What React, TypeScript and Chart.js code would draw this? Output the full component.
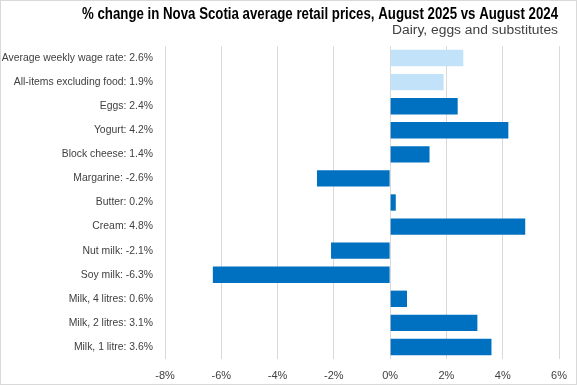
import React, { useEffect, useRef } from "react";
import { Chart, registerables } from "chart.js";

Chart.register(...registerables);

const categories = [
  "Average weekly wage rate: 2.6%",
  "All-items excluding food: 1.9%",
  "Eggs: 2.4%",
  "Yogurt: 4.2%",
  "Block cheese: 1.4%",
  "Margarine: -2.6%",
  "Butter: 0.2%",
  "Cream: 4.8%",
  "Nut milk: -2.1%",
  "Soy milk: -6.3%",
  "Milk, 4 litres: 0.6%",
  "Milk, 2 litres: 3.1%",
  "Milk, 1 litre: 3.6%",
];
const values = [2.6, 1.9, 2.4, 4.2, 1.4, -2.6, 0.2, 4.8, -2.1, -6.3, 0.6, 3.1, 3.6];
const isReference = [true, true, false, false, false, false, false, false, false, false, false, false, false];

const titleText = "% change in Nova Scotia average retail prices, August 2025 vs August 2024";
const subtitleText = "Dairy, eggs and substitutes";

const DARK = "#0070C0";
const LIGHT = "#C2E2FA";

export default function App() {
  const ref = useRef<HTMLCanvasElement | null>(null);
  useEffect(() => {
    document.body.style.margin = "0";
    const canvas = ref.current!;
    const decorPlugin = {
      id: "decor",
      beforeDraw(chart: any) {
        const ctx = chart.ctx;
        ctx.save();
        ctx.fillStyle = "#ffffff";
        ctx.fillRect(0, 0, chart.width, chart.height);
        ctx.restore();
      },
      afterDraw(chart: any) {
        const ctx = chart.ctx;
        ctx.save();
        ctx.strokeStyle = "#d9d9d9";
        ctx.lineWidth = 1;
        ctx.strokeRect(0.5, 0.5, chart.width - 1, chart.height - 1);
        const right = 558;
        ctx.textBaseline = "middle";
        ctx.textAlign = "right";
        ctx.font = "bold 17px 'Liberation Sans', sans-serif";
        ctx.fillStyle = "#000000";
        const w = ctx.measureText(titleText).width;
        ctx.save();
        ctx.translate(right, 14);
        ctx.scale(476 / w, 1);
        ctx.fillText(titleText, 0, 0);
        ctx.restore();
        ctx.font = "12px 'Liberation Sans', sans-serif";
        ctx.fillStyle = "#404040";
        const w2 = ctx.measureText(subtitleText).width;
        ctx.save();
        ctx.translate(right, 31);
        ctx.scale(166 / w2, 1);
        ctx.fillText(subtitleText, 0, 0);
        ctx.restore();
        ctx.restore();
      },
    };
    const chart = new Chart(canvas, {
      type: "bar",
      data: {
        labels: categories,
        datasets: [
          {
            data: values,
            backgroundColor: isReference.map((r) => (r ? LIGHT : DARK)),
            categoryPercentage: 1,
            barPercentage: 0.68,
          },
        ],
      },
      plugins: [decorPlugin],
      options: {
        indexAxis: "y",
        animation: false,
        responsive: false,
        maintainAspectRatio: false,
        layout: { padding: { left: 2, right: 18, top: 46, bottom: 0 } },
        plugins: {
          legend: { display: false },
          tooltip: { enabled: false },
          title: { display: false },
          subtitle: { display: false },
        },
        scales: {
          x: {
            min: -8,
            max: 6,
            ticks: {
              stepSize: 2,
              callback: (v: any) => `${v}%`,
              color: "#404040",
              font: { family: "'Liberation Sans', sans-serif", size: 11 },
              padding: 10,
            },
            grid: { color: "#d9d9d9", drawTicks: false },
            border: { display: false },
            afterFit: (scale: any) => {
              scale.height = 26;
            },
          },
          y: {
            ticks: {
              color: "#404040",
              font: { family: "'Liberation Sans', sans-serif", size: 10.4 },
              padding: 12,
              autoSkip: false,
            },
            grid: { display: false, drawTicks: false },
            border: { display: false },
            afterFit: (scale: any) => {
              scale.width = 163;
            },
          },
        },
      },
    });
    return () => chart.destroy();
  }, []);
  return <canvas ref={ref} width={577} height={385} style={{ display: "block" }} />;
}
